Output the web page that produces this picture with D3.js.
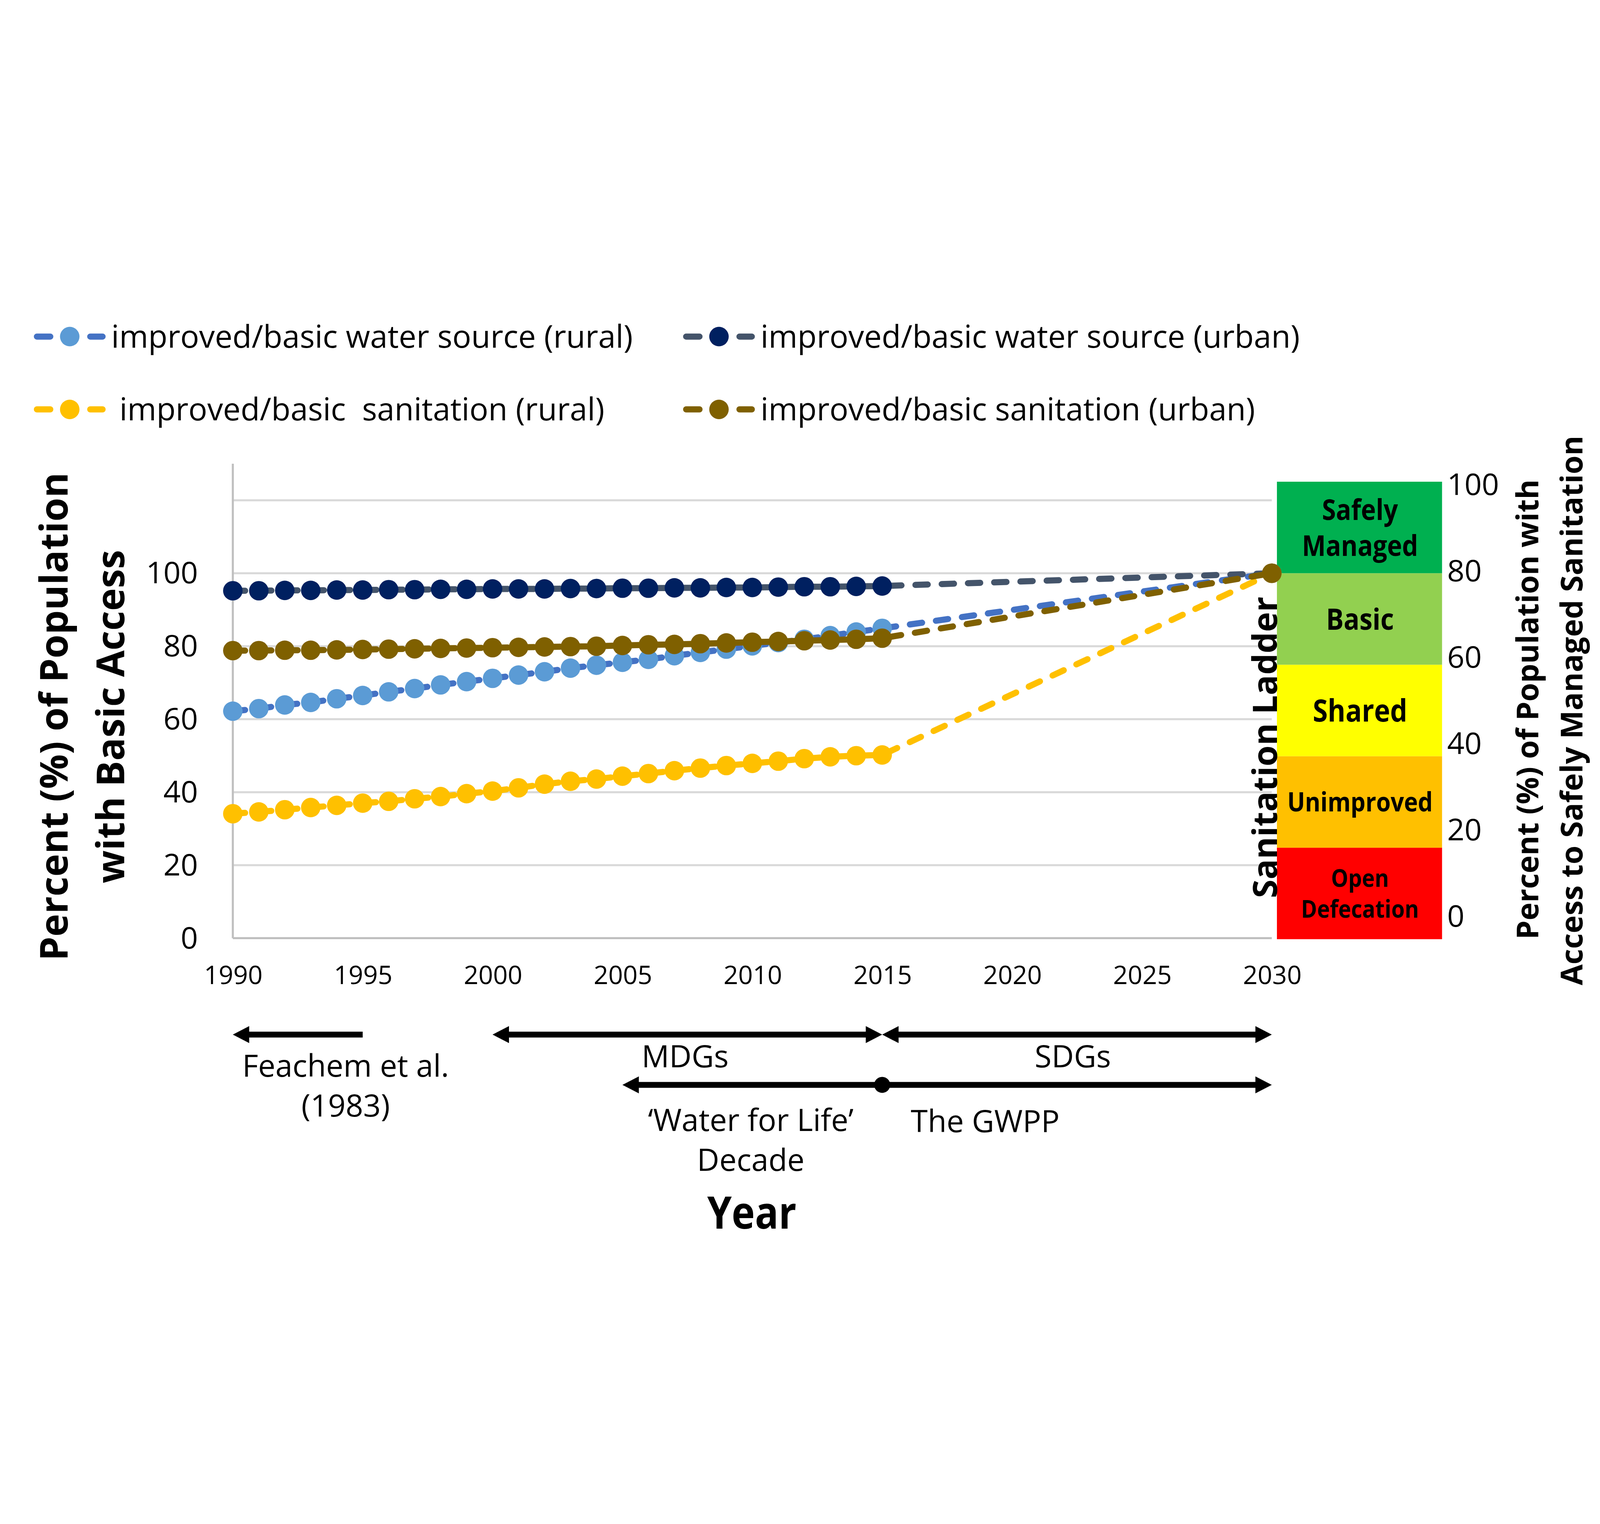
<!DOCTYPE html>
<html>
<head>
<meta charset="utf-8">
<script src="https://cdn.jsdelivr.net/npm/d3@7"></script>
<style>
html, body { margin: 0; padding: 0; width: 100%; height: 100%; background: #ffffff; overflow: hidden; }
#chart-area { width: 100vw; height: 100vh; }
svg { display: block; width: 100vw; height: 100vh; }
</style>
</head>
<body>
<div id="chart-area"></div>
<script>
var years = [1990, 1991, 1992, 1993, 1994, 1995, 1996, 1997, 1998, 1999, 2000, 2001, 2002,
	2003, 2004, 2005, 2006, 2007, 2008, 2009, 2010, 2011, 2012, 2013, 2014, 2015];

var ruralWater = [62.2, 62.9, 63.9, 64.6, 65.6, 66.5, 67.5, 68.4, 69.4, 70.3, 71.2, 72.1, 73.0,
	74.0, 74.8, 75.6, 76.4, 77.4, 78.3, 79.2, 80.1, 81.0, 81.9, 82.9, 83.9, 84.9];
var urbanWater = [95.2, 95.2, 95.3, 95.3, 95.4, 95.4, 95.5, 95.5, 95.6, 95.6, 95.7, 95.7, 95.7,
	95.8, 95.8, 95.9, 95.9, 96.0, 96.0, 96.1, 96.1, 96.2, 96.3, 96.3, 96.4, 96.5];
var ruralSanitation = [34.1, 34.6, 35.2, 35.8, 36.4, 37.0, 37.5, 38.2, 38.8, 39.6, 40.3, 41.2, 42.2,
	43.0, 43.6, 44.4, 45.1, 45.9, 46.6, 47.3, 47.9, 48.5, 49.2, 49.7, 50.0, 50.2];
var urbanSanitation = [78.8, 78.8, 78.9, 78.9, 79.0, 79.1, 79.2, 79.3, 79.4, 79.5, 79.6, 79.7, 79.8,
	79.9, 80.0, 80.2, 80.4, 80.5, 80.7, 80.9, 81.1, 81.3, 81.5, 81.7, 81.9, 82.2];

var targetYear = 2030;
var targetValue = 100;

var seriesLabels = [
	"improved/basic water source (rural)",
	"improved/basic water source (urban)",
	" improved/basic  sanitation (rural)",
	"improved/basic sanitation (urban)"
];

var ladderLevels = ["Open Defecation", "Unimproved", "Shared", "Basic", "Safely Managed"];

var xTicks = [1990, 1995, 2000, 2005, 2010, 2015, 2020, 2025, 2030];
var leftTicks = [0, 20, 40, 60, 80, 100];
var gridTicks = [0, 20, 40, 60, 80, 100, 120];
var rightTicks = [0, 20, 40, 60, 80, 100];

var periodNames = ["Feachem et al.|(1983)", "MDGs", "SDGs", "\u2018Water for Life\u2019|Decade", "The GWPP"];
var periodStart = [1990, 2000, 2015, 2005, 2015];
var periodEnd = [1995, 2015, 2030, 2015, 2030];

// styles
var lineColors = ["#4472C4", "#44546A", "#FFC000", "#7F6000"];
var dotColors = ["#5B9BD5", "#002060", "#FFC000", "#7F6000"];
var ladderColors = ["#FF0000", "#FFC000", "#FFFF00", "#92D050", "#00B050"];
var ladderSizes = [24, 26, 30, 29, 28];
var narrowScale = 0.88;

var uiFont = "'Open Sans', 'Noto Sans', sans-serif";

var W = 1560, H = 922.5;

var svg = d3.select("#chart-area").append("svg")
	.attr("viewBox", "0 0 " + W + " " + H)
	.attr("preserveAspectRatio", "xMidYMid meet");

var x = d3.scaleLinear()
	.domain([1990, 2030])
	.range([227, 1240]);

var y = d3.scaleLinear()
	.domain([0, 130])
	.range([633, 170.5]);

var yRight = d3.scaleLinear()
	.domain([0, 100])
	.range([612, 191]);

var ladderY = d3.scaleBand()
	.domain(ladderLevels)
	.range([634, 188]);

// gridlines
svg.append("g").selectAll("line")
	.data(gridTicks)
	.enter().append("line")
		.attr("x1", x(1990))
		.attr("x2", x(2030))
		.attr("y1", function(d){ return y(d); })
		.attr("y2", function(d){ return y(d); })
		.attr("stroke", function(d){ return d === 0 ? "#BFBFBF" : "#D9D9D9"; })
		.attr("stroke-width", 2);

svg.append("line")
	.attr("x1", x(1990))
	.attr("x2", x(1990))
	.attr("y1", y(0))
	.attr("y2", y(130))
	.attr("stroke", "#BFBFBF")
	.attr("stroke-width", 2);

var xAxis = d3.axisBottom(x)
	.tickValues(xTicks)
	.tickFormat(d3.format("d"))
	.tickSize(0)
	.tickPadding(27);

var gx = svg.append("g")
	.attr("class", "x-axis")
	.attr("transform", "translate(0," + y(0) + ")")
	.call(xAxis);
gx.select(".domain").remove();
gx.selectAll("text")
	.attr("font-family", uiFont)
	.attr("font-size", 25)
	.attr("fill", "#000");

var yAxis = d3.axisLeft(y)
	.tickValues(leftTicks)
	.tickSize(0)
	.tickPadding(34);

var gy = svg.append("g")
	.attr("class", "y-axis")
	.attr("transform", "translate(" + x(1990) + ",0)")
	.call(yAxis);
gy.select(".domain").remove();
gy.selectAll("text")
	.attr("font-family", uiFont)
	.attr("font-size", 29.5)
	.attr("fill", "#000");

// sanitation ladder
var ladder = svg.append("g");
ladder.selectAll("rect")
	.data(ladderLevels)
	.enter().append("rect")
		.attr("x", 1245)
		.attr("width", 161)
		.attr("y", function(d){ return ladderY(d); })
		.attr("height", ladderY.bandwidth())
		.attr("fill", function(d, i){ return ladderColors[i]; });

ladder.selectAll("text")
	.data(ladderLevels)
	.enter().append("text")
		.attr("transform", function(d){
			return "translate(1326," + (ladderY(d) + ladderY.bandwidth() / 2) + ") scale(" + narrowScale + ",1)";
		})
		.attr("text-anchor", "middle")
		.attr("font-family", uiFont)
		.attr("font-weight", "bold")
		.attr("font-size", function(d, i){ return ladderSizes[i]; })
		.each(function(d){
			var words = d.split(" ");
			var t = d3.select(this);
			var gap = words.length > 1 ? 1.25 : 0;
			words.forEach(function(w, k){
				t.append("tspan")
					.attr("x", 0)
					.attr("dy", k === 0 ? (0.36 - gap / 2) + "em" : gap + "em")
					.text(w);
			});
		});

var yAxisRight = d3.axisRight(yRight)
	.tickValues(rightTicks)
	.tickSize(0)
	.tickPadding(2);

var gr = svg.append("g")
	.attr("transform", "translate(1409,0)")
	.call(yAxisRight);
gr.select(".domain").remove();
gr.selectAll("text")
	.attr("font-family", uiFont)
	.attr("font-size", 29.5)
	.attr("fill", "#000");

// series
var allSeries = [ruralWater, urbanWater, ruralSanitation, urbanSanitation];

var line = d3.line()
	.x(function(d){ return x(d[0]); })
	.y(function(d){ return y(d[1]); });

allSeries.forEach(function(values, i){
	var pts = years.map(function(yr, k){ return [yr, values[k]]; });
	var full = pts.concat([[targetYear, targetValue]]);

	svg.append("path")
		.datum(full)
		.attr("d", line)
		.attr("fill", "none")
		.attr("stroke", lineColors[i])
		.attr("stroke-width", 6)
		.attr("stroke-linecap", "round")
		.attr("stroke-dasharray", "12 13.6");

	svg.append("g").selectAll("circle")
		.data(full)
		.enter().append("circle")
			.attr("cx", function(d){ return x(d[0]); })
			.attr("cy", function(d){ return y(d[1]); })
			.attr("r", 9.5)
			.attr("fill", dotColors[i]);
});

// legend
var legendCols = [68, 701];
var legendRows = [46.5, 117.5];
var legend = svg.append("g").selectAll("g")
	.data(seriesLabels)
	.enter().append("g")
		.attr("transform", function(d, i){
			return "translate(" + legendCols[i % 2] + "," + legendRows[Math.floor(i / 2)] + ")";
		});

legend.append("line")
	.attr("x1", -32).attr("x2", -19)
	.attr("y1", 0).attr("y2", 0)
	.attr("stroke", function(d, i){ return lineColors[i]; })
	.attr("stroke-width", 6)
	.attr("stroke-linecap", "round");
legend.append("line")
	.attr("x1", 20).attr("x2", 32)
	.attr("y1", 0).attr("y2", 0)
	.attr("stroke", function(d, i){ return lineColors[i]; })
	.attr("stroke-width", 6)
	.attr("stroke-linecap", "round");
legend.append("circle")
	.attr("r", 9.5)
	.attr("fill", function(d, i){ return dotColors[i]; });
legend.append("text")
	.attr("x", 40.5)
	.attr("dy", "0.35em")
	.attr("font-family", uiFont)
	.attr("font-size", 30.6)
	.style("white-space", "pre")
	.text(function(d){ return d; });

// axis titles
svg.append("text")
	.attr("transform", "translate(66,417) rotate(-90)")
	.attr("text-anchor", "middle")
	.attr("font-family", uiFont)
	.attr("font-weight", "bold")
	.attr("font-size", 37.5)
	.text("Percent (%) of Population");
svg.append("text")
	.attr("transform", "translate(121,417) rotate(-90)")
	.attr("text-anchor", "middle")
	.attr("font-family", uiFont)
	.attr("font-weight", "bold")
	.attr("font-size", 37.5)
	.text("with Basic Access");

svg.append("text")
	.attr("transform", "translate(1245,447) rotate(-90)")
	.attr("text-anchor", "middle")
	.attr("font-family", uiFont)
	.attr("font-weight", "bold")
	.attr("font-size", 33)
	.text("Sanitation Ladder");

svg.append("text")
	.attr("transform", "translate(1500,410) rotate(-90)")
	.attr("text-anchor", "middle")
	.attr("font-family", uiFont)
	.attr("font-weight", "bold")
	.attr("font-size", 29.5)
	.text("Percent (%) of Population with");
svg.append("text")
	.attr("transform", "translate(1543,411) rotate(-90)")
	.attr("text-anchor", "middle")
	.attr("font-family", uiFont)
	.attr("font-weight", "bold")
	.attr("font-size", 29.5)
	.text("Access to Safely Managed Sanitation");

// period arrows
var arrowRows = [727, 727, 727, 776, 776];
var headStart = [true, true, true, true, false];
var headEnd = [false, true, true, false, true];
var headLen = 16, headHalf = 8.3;

var arrows = svg.append("g");
periodNames.forEach(function(name, i){
	var x1 = x(periodStart[i]), x2 = x(periodEnd[i]), yy = arrowRows[i];
	arrows.append("line")
		.attr("x1", headStart[i] ? x1 + headLen - 1 : x1)
		.attr("x2", headEnd[i] ? x2 - headLen + 1 : x2)
		.attr("y1", yy).attr("y2", yy)
		.attr("stroke", "#000")
		.attr("stroke-width", 5.7);
	if (headStart[i]) {
		arrows.append("path")
			.attr("d", "M" + x1 + "," + yy + "L" + (x1 + headLen) + "," + (yy - headHalf) +
				"L" + (x1 + headLen) + "," + (yy + headHalf) + "Z")
			.attr("fill", "#000");
	}
	if (headEnd[i]) {
		arrows.append("path")
			.attr("d", "M" + x2 + "," + yy + "L" + (x2 - headLen) + "," + (yy - headHalf) +
				"L" + (x2 - headLen) + "," + (yy + headHalf) + "Z")
			.attr("fill", "#000");
	}
});
arrows.append("circle")
	.attr("cx", x(2015))
	.attr("cy", 776)
	.attr("r", 7.8)
	.attr("fill", "#000");

// period labels
var labelX = [337, 668, 1046, 732, 888];
var labelY = [768, 759, 759, 821, 822];
var labelAnchor = ["middle", "middle", "middle", "middle", "start"];

svg.append("g").selectAll("text")
	.data(periodNames)
	.enter().append("text")
		.attr("x", function(d, i){ return labelX[i]; })
		.attr("y", function(d, i){ return labelY[i]; })
		.attr("text-anchor", function(d, i){ return labelAnchor[i]; })
		.attr("font-family", uiFont)
		.attr("font-size", 30)
		.each(function(d, i){
			var t = d3.select(this);
			d.split("|").forEach(function(part, k){
				t.append("tspan")
					.attr("x", labelX[i])
					.attr("dy", k === 0 ? 0 : 39)
					.text(part);
			});
		});

svg.append("text")
	.attr("transform", "translate(733,916) scale(0.87,1)")
	.attr("text-anchor", "middle")
	.attr("font-family", uiFont)
	.attr("font-weight", "bold")
	.attr("font-size", 44)
	.text("Year");
</script>
</body>
</html>
